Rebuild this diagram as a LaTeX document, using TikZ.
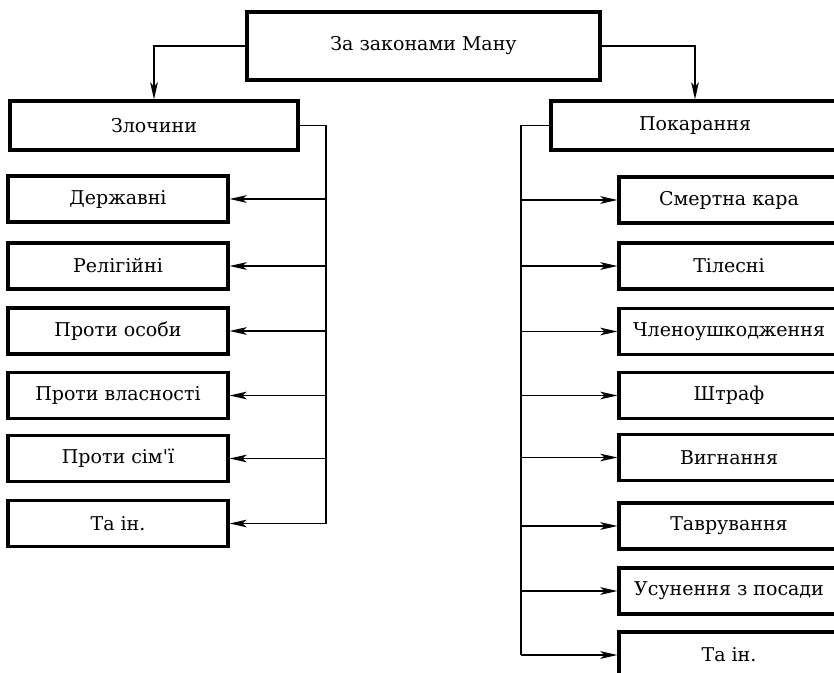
\documentclass[tikz,border=0pt]{standalone}
\usepackage{fontspec}
\setmainfont{DejaVu Serif}
\usetikzlibrary{arrows.meta}

\begin{document}
\begin{tikzpicture}[x=0.5pt,y=-0.5pt,
	box/.style={draw,line width=1.6pt,inner sep=0pt,minimum width=110pt,minimum height=23pt},
	link/.style={line width=0.7pt},
	arr/.style={link,-{Stealth[length=8.5pt,width=3.8pt,inset=2pt]}},
	font=\fontsize{9.5}{11}\selectfont]
	\clip (0,0) rectangle (834,673);
	\node[box,minimum width=176.5pt,minimum height=34pt] at (423.5,46) (law) {За законами Ману};
	\node[box,minimum width=144pt,minimum height=24.5pt] at (154,125.5) (crime) {Злочини};
	\node[box,minimum width=144pt,minimum height=24.5pt] at (695,125.5) (pun) {Покарання};
	\node[box] at (118,199) (c1) {Державні};
	\node[box] at (118,266) (c2) {Релігійні};
	\node[box] at (118,331) (c3) {Проти особи};
	\node[box] at (118,395.5) (c4) {Проти власності};
	\node[box] at (118,458.5) (c5) {Проти сім\textquotesingle ї};
	\node[box] at (118,523.5) (c6) {Та ін.};
	\node[box] at (729,200) (p1) {Смертна кара};
	\node[box] at (729,266) (p2) {Тілесні};
	\node[box] at (729,331.5) (p3) {Членоушкодження};
	\node[box] at (729,395.5) (p4) {Штраф};
	\node[box] at (729,457.5) (p5) {Вигнання};
	\node[box] at (729,526) (p6) {Таврування};
	\node[box] at (729,591) (p7) {Усунення з посади};
	\node[box] at (729,655) (p8) {Та ін.};
	\coordinate (ctrunk) at (326,125.5);
	\coordinate (ptrunk) at (521,125.5);
	\draw[arr] (law.west) -| (crime.north);
	\draw[arr] (law.east) -| (pun.north);
	\draw[link] (crime.east) -- (ctrunk) -- (ctrunk |- c6.east);
	\draw[link] (pun.west) -- (ptrunk) -- (ptrunk |- p8.west);
	\draw[arr] (ctrunk |- c1.east) -- (c1.east);
	\draw[arr] (ctrunk |- c2.east) -- (c2.east);
	\draw[arr] (ctrunk |- c3.east) -- (c3.east);
	\draw[arr] (ctrunk |- c4.east) -- (c4.east);
	\draw[arr] (ctrunk |- c5.east) -- (c5.east);
	\draw[arr] (ctrunk |- c6.east) -- (c6.east);
	\draw[arr] (ptrunk |- p1.west) -- (p1.west);
	\draw[arr] (ptrunk |- p2.west) -- (p2.west);
	\draw[arr] (ptrunk |- p3.west) -- (p3.west);
	\draw[arr] (ptrunk |- p4.west) -- (p4.west);
	\draw[arr] (ptrunk |- p5.west) -- (p5.west);
	\draw[arr] (ptrunk |- p6.west) -- (p6.west);
	\draw[arr] (ptrunk |- p7.west) -- (p7.west);
	\draw[arr] (ptrunk |- p8.west) -- (p8.west);
\end{tikzpicture}
\end{document}
